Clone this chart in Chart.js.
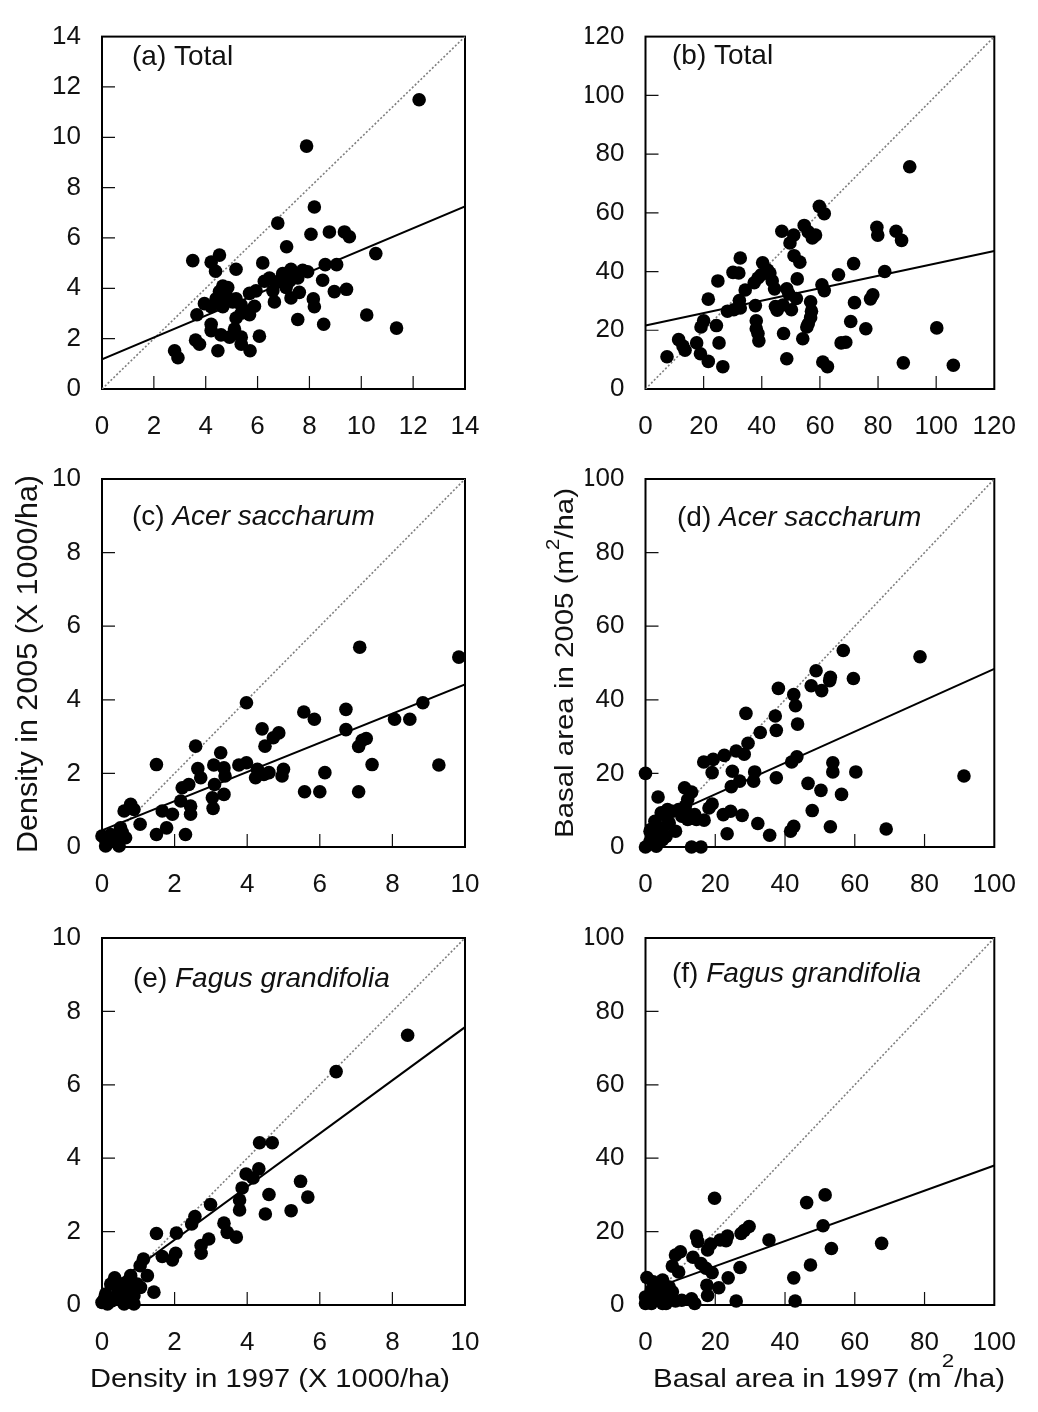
<!DOCTYPE html>
<html>
<head>
<meta charset="utf-8">
<script src="https://cdn.jsdelivr.net/npm/chart.js@4.4.0/dist/chart.umd.min.js"></script>
<style>
html,body{margin:0;padding:0;background:#fff;}
#wrap{position:relative;width:1038px;height:1412px;overflow:hidden;}
#wrap canvas{position:absolute;left:0;top:0;}
</style>
</head>
<body>
<div id="wrap">
<canvas id="c0" width="1038" height="1412"></canvas>
<canvas id="c1" width="1038" height="1412"></canvas>
<canvas id="c2" width="1038" height="1412"></canvas>
<canvas id="c3" width="1038" height="1412"></canvas>
<canvas id="c4" width="1038" height="1412"></canvas>
<canvas id="c5" width="1038" height="1412"></canvas>
</div>
<script>
// ---------------- DATA ----------------
// (a) Total density (x1000/ha): 1997 vs 2005
const panelA_x = [12.23,7.89,8.19,6.78,8.06,8.77,9.35,9.54,10.56,7.12,3.50,4.21,4.53,4.38,5.17,6.20,7.29,7.74,7.93,8.61,9.05,6.46,6.26,6.71,6.91,7.23,7.55,7.10,6.59,5.94,5.69,7.61,7.29,8.51,8.96,9.43,4.53,4.85,4.40,3.95,4.21,4.66,5.04,5.37,5.88,5.56,6.65,8.15,8.19,3.66,5.17,5.69,7.55,8.55,10.21,11.36,4.21,4.21,5.11,4.59,4.92,5.37,6.07,3.61,3.76,5.37,4.47,5.71,2.80,2.93,4.66,4.79,5.17,5.37,6.97,7.38];
const panelA_y = [11.49,9.65,7.23,6.59,6.15,6.24,6.24,6.05,5.38,5.65,5.10,5.04,5.32,4.68,4.76,5.01,4.76,4.72,4.66,4.94,4.94,4.41,4.28,4.22,4.38,4.28,4.41,4.03,3.90,3.90,3.80,3.84,3.62,4.32,3.87,3.96,3.87,4.03,3.58,3.39,3.27,3.27,3.46,3.33,3.29,3.08,3.46,3.58,3.27,2.95,2.82,2.95,2.76,2.57,2.94,2.42,2.57,2.32,2.38,2.15,2.06,2.06,2.10,1.94,1.78,1.78,1.52,1.52,1.52,1.24,4.09,3.71,3.58,3.01,4.59,4.53];
// (b) Total basal area (m2/ha)
const panelB_x = [90.9,59.8,61.5,46.9,51.0,49.7,54.6,56.0,58.5,57.4,79.6,79.9,86.2,88.1,51.1,53.1,32.6,40.3,42.0,42.8,30.1,32.1,71.6,66.4,82.3,24.9,37.4,38.7,39.8,52.2,43.6,44.4,34.3,48.6,49.3,60.7,61.5,51.9,78.2,77.4,71.9,21.6,32.3,32.6,30.4,28.2,37.8,44.7,45.3,47.3,50.2,56.8,57.1,56.8,56.0,55.5,70.6,75.8,20.0,19.1,24.4,38.1,38.1,38.7,39.0,47.5,54.1,11.4,12.9,13.6,17.6,25.3,18.9,21.6,26.6,7.4,48.6,61.0,62.6,67.3,68.9,88.7,100.2,105.9];
const panelB_y = [75.7,62.2,59.7,53.7,52.4,49.7,55.7,53.5,52.4,51.4,55.1,52.4,53.7,50.6,45.4,43.2,44.6,43.0,40.5,39.5,39.7,39.5,42.7,38.9,40.0,36.8,36.2,37.8,38.9,37.5,36.8,34.1,33.7,34.1,32.4,35.5,33.5,30.8,32.1,30.7,29.4,30.6,30.1,27.6,27.0,26.5,28.4,28.1,26.8,28.6,27.0,29.7,26.5,24.3,22.2,21.1,23.0,20.5,23.2,21.1,21.6,23.2,20.5,18.9,16.4,18.9,17.1,16.8,14.6,13.2,15.7,15.7,12.0,9.4,7.6,11.0,10.3,9.2,7.6,15.7,15.9,8.9,20.8,8.1];
// (c) Acer saccharum density
const panelC_x = [7.10,9.83,3.98,8.84,5.56,5.85,6.72,8.06,8.48,4.41,4.87,4.72,4.49,6.72,7.28,7.17,7.07,7.44,9.28,2.58,1.50,3.27,2.64,2.72,3.08,3.36,3.39,3.10,3.77,3.98,4.28,4.23,4.46,4.60,5.00,4.96,6.14,2.21,2.39,2.17,2.44,2.44,3.04,3.06,3.36,5.58,6.00,7.07,1.66,1.94,1.78,1.50,2.30,1.05,0.79,0.61,0.88,0.51,0.56,0.24,0.06,0.00,0.10,0.38,0.47,0.28,0.65,0.15];
const panelC_y = [5.43,5.16,3.92,3.92,3.67,3.47,3.74,3.47,3.47,3.21,3.10,2.97,2.74,3.19,2.95,2.90,2.73,2.24,2.23,2.74,2.24,2.56,2.13,1.88,2.23,2.15,1.93,1.70,2.23,2.29,2.11,1.88,1.97,2.02,2.11,1.93,2.02,1.61,1.70,1.25,1.11,0.89,1.34,1.05,1.43,1.50,1.50,1.50,0.98,0.89,0.52,0.34,0.34,0.62,1.16,0.98,1.02,0.52,0.39,0.34,0.25,0.30,0.03,0.16,0.03,0.21,0.25,0.16];
// (d) Acer saccharum basal area
const panelD_x = [56.7,78.7,48.9,53.0,52.8,59.6,47.5,50.5,38.1,42.5,43.0,28.8,37.2,37.5,43.6,32.9,29.4,26.0,28.3,22.6,19.4,16.7,19.1,24.9,24.6,27.0,31.3,31.0,37.5,41.9,43.4,53.7,53.7,60.3,91.3,46.6,50.3,56.2,47.8,53.0,69.0,42.5,41.6,35.6,32.2,27.7,24.4,22.3,23.4,18.2,19.1,11.2,13.2,12.1,3.6,0.0,11.4,14.1,16.8,12.1,7.7,5.9,8.6,4.9,3.1,2.2,1.3,0.0,3.1,13.2,15.9,6.8,9.5,4.9,4.5,6.3,2.7,1.3,5.9,10.4,11.8,14.6];
const panelD_y = [53.4,51.7,47.9,46.1,45.2,45.8,43.8,42.5,43.1,41.4,38.4,36.3,35.6,31.7,33.4,31.1,28.2,26.1,25.2,24.9,23.8,23.1,20.2,20.6,16.4,17.9,20.4,17.9,18.8,23.1,24.5,22.9,20.4,20.4,19.3,17.3,15.4,14.3,9.9,5.5,4.9,5.6,4.3,3.2,6.4,8.6,9.7,8.8,3.6,10.6,11.7,16.1,14.9,12.9,13.6,20.0,11.1,8.8,7.3,7.5,9.7,8.4,4.3,5.2,4.7,2.9,1.5,0.0,0.2,0.0,0.0,6.5,10.2,2.0,9.3,10.2,7.0,4.3,2.9,8.4,9.3,7.5];
// (e) Fagus grandifolia density
const panelE_x = [8.42,6.45,4.34,4.69,3.97,4.32,4.16,3.86,3.79,3.79,5.47,5.67,4.60,4.50,5.21,2.99,2.56,2.47,3.36,3.45,3.70,1.50,2.05,2.94,2.73,2.73,1.66,2.03,1.94,1.14,1.05,1.25,0.79,0.35,0.56,0.97,1.43,0.70,0.88,0.88,0.61,0.42,0.10,0.06,0.15,0.00,0.28,0.61,0.51,0.74,1.06,0.24];
const panelE_y = [7.35,6.36,4.42,4.42,3.57,3.71,3.46,3.19,2.86,2.59,3.37,2.94,3.01,2.48,2.57,2.74,2.41,2.21,2.23,1.98,1.85,1.95,1.96,1.80,1.62,1.41,1.32,1.41,1.23,1.25,1.07,0.80,0.80,0.74,0.57,0.57,0.35,0.44,0.25,0.03,0.16,0.30,0.30,0.16,0.03,0.07,0.12,0.03,0.39,0.62,0.48,0.57];
// (f) Fagus grandifolia basal area
const panelF_x = [19.8,51.5,46.2,50.9,67.7,53.3,35.4,29.7,28.3,27.4,23.5,23.1,21.4,18.7,17.8,14.6,15.0,10.0,8.6,13.6,15.9,17.3,19.1,7.7,9.5,27.1,23.7,21.0,17.6,17.8,26.0,13.2,14.1,8.6,42.5,47.3,42.9,0.4,4.9,3.1,6.8,1.7,4.9,0.0,2.7,4.0,0.0,1.7,5.9,6.8,2.2,4.0,0.8,7.7,4.9,10.4];
const panelF_y = [29.1,30.0,27.9,21.6,16.8,15.4,17.7,21.4,20.3,19.5,18.8,17.5,17.7,16.6,15.0,18.8,17.3,14.5,13.6,13.0,11.3,10.0,8.8,10.6,9.0,10.2,7.4,4.7,5.4,2.6,1.1,1.7,0.4,1.1,7.4,10.9,1.1,7.5,6.8,5.4,4.9,4.0,3.6,2.2,2.6,1.3,0.4,0.4,0.4,2.2,6.3,3.1,1.3,3.6,0.4,1.3];

// Fitted regression lines (end points)
const fitA_x = [0, 14],  fitA_y = [1.18, 7.25];
const fitB_x = [0, 120], fitB_y = [21.6, 47.0];
const fitC_x = [0, 10],  fitC_y = [0.45, 4.42];
const fitD_x = [0, 100], fitD_y = [5.8, 48.4];
const fitE_x = [0, 10],  fitE_y = [0.33, 7.57];
const fitF_x = [0, 100], fitF_y = [3.7, 38.0];

// Axis ranges / tick steps (same on x and y for each panel)
const axisMax  = [14, 120, 10, 100, 10, 100];
const axisStep = [2, 20, 2, 20, 2, 20];

// Panel labels
const panelTags  = ['(a) ', '(b) ', '(c) ', '(d) ', '(e) ', '(f) '];
const panelNames = ['Total', 'Total', 'Acer saccharum', 'Acer saccharum', 'Fagus grandifolia', 'Fagus grandifolia'];
const panelItalic = [false, false, true, true, true, true];

// Axis titles
const yTitleDensity = [{t:'Density in 2005 (X 1000/ha)'}];
const yTitleBasal   = [{t:'Basal area in 2005 (m'},{t:'2',sup:true},{t:'/ha)'}];
const xTitleDensity = [{t:'Density in 1997 (X 1000/ha)'}];
const xTitleBasal   = [{t:'Basal area in 1997 (m'},{t:'2',sup:true},{t:'/ha)'}];

// ---------------- LAYOUT ----------------
const FONT = '"Liberation Sans", Arial, Helvetica, sans-serif';
const boxes = [
  {L:102,   T:21,  R:465,  B:389},
  {L:645.5, T:21,  R:1009, B:389},
  {L:102,   T:479, R:465,  B:847},
  {L:645.5, T:479, R:1009, B:847},
  {L:102,   T:938, R:465,  B:1305},
  {L:645.5, T:938, R:1009, B:1305}
];
const labelPos = [[132,65],[672,64],[132,525],[677,526],[133,987],[672,982]];
// title placement: [panelIndex, segments, anchorX, anchorY, rotated, size, length, supRaise, supSize]
const titleDefs = [
  [2, yTitleDensity, 37, 664, true, 29, 378, 0, 0],
  [3, yTitleBasal, 573, 663, true, 26, 350, 14, 18],
  [4, xTitleDensity, 270, 1387, false, 25, 360, 0, 0],
  [5, xTitleBasal, 829, 1387, false, 25, 352, 20, 19]
];

const TICK_SIZE = 26;
const Y_W = 60, X_H = 50, W = 1038, H = 1412;

function drawRich(ctx, segs, ax, ay, rotated, size, len, raise, supSize) {
  ctx.save();
  ctx.translate(ax, ay);
  if (rotated) ctx.rotate(-Math.PI / 2);
  let total = 0;
  const parts = segs.map(s => {
    const f = (s.sup ? supSize : size) + 'px ' + FONT;
    ctx.font = f;
    const w = ctx.measureText(s.t).width;
    total += w;
    return {t: s.t, f, w, sup: !!s.sup};
  });
  ctx.scale(len / total, 1);
  ctx.textAlign = 'left';
  ctx.textBaseline = 'alphabetic';
  ctx.fillStyle = '#111';
  let x = -total / 2;
  for (const p of parts) {
    ctx.font = p.f;
    ctx.fillText(p.t, x, p.sup ? -raise : 0);
    x += p.w;
  }
  ctx.restore();
}

function makePlugin(i) {
  return {
    id: 'panelDecor' + i,
    beforeDatasetsDraw(chart) {
      const {ctx, chartArea: a, scales: {x, y}} = chart;
      ctx.save();
      ctx.strokeStyle = '#111';
      ctx.lineWidth = 1.2;
      ctx.beginPath();
      x.ticks.forEach(t => {
        if (t.value > x.min && t.value < x.max) {
          const px = x.getPixelForValue(t.value);
          ctx.moveTo(px, a.bottom); ctx.lineTo(px, a.bottom - 13);
        }
      });
      y.ticks.forEach(t => {
        if (t.value > y.min && t.value < y.max) {
          const py = y.getPixelForValue(t.value);
          ctx.moveTo(a.left, py); ctx.lineTo(a.left + 13, py);
        }
      });
      ctx.stroke();
      ctx.lineWidth = 2;
      ctx.strokeStyle = '#000';
      ctx.strokeRect(a.left, a.top, a.right - a.left, a.bottom - a.top);
      ctx.restore();
    },
    afterDraw(chart) {
      const ctx = chart.ctx;
      ctx.save();
      ctx.fillStyle = '#111';
      ctx.textBaseline = 'alphabetic';
      ctx.textAlign = 'left';
      const [lx, ly] = labelPos[i];
      ctx.font = '28px ' + FONT;
      ctx.fillText(panelTags[i], lx, ly);
      const w = ctx.measureText(panelTags[i]).width;
      ctx.font = (panelItalic[i] ? 'italic ' : '') + '28px ' + FONT;
      ctx.fillText(panelNames[i], lx + w, ly);
      ctx.restore();
      titleDefs.filter(d => d[0] === i).forEach(d => {
        drawRich(ctx, d[1], d[2], d[3], d[4], d[5], d[6], d[7], d[8]);
      });
    }
  };
}

const panels = [
  [panelA_x, panelA_y, fitA_x, fitA_y],
  [panelB_x, panelB_y, fitB_x, fitB_y],
  [panelC_x, panelC_y, fitC_x, fitC_y],
  [panelD_x, panelD_y, fitD_x, fitD_y],
  [panelE_x, panelE_y, fitE_x, fitE_y],
  [panelF_x, panelF_y, fitF_x, fitF_y]
];

Chart.defaults.font.family = FONT;

panels.forEach((p, i) => {
  const [xs, ys, fx, fy] = p;
  const b = boxes[i];
  const max = axisMax[i], step = axisStep[i];
  const scaleCommon = {
    type: 'linear', min: 0, max: max,
    grid: {display: false, drawTicks: false},
    border: {display: false},
    ticks: {stepSize: step, autoSkip: false, maxRotation: 0, color: '#111', font: {size: TICK_SIZE, family: FONT}}
  };
  new Chart(document.getElementById('c' + i), {
    type: 'scatter',
    data: {
      datasets: [
        {
          data: xs.map((v, k) => ({x: v, y: ys[k]})),
          backgroundColor: '#000', borderWidth: 0, pointRadius: 6.8, pointHoverRadius: 6.8,
          clip: false, order: 0
        },
        {
          data: fx.map((v, k) => ({x: v, y: fy[k]})),
          showLine: true, borderColor: '#000', borderWidth: 2, pointRadius: 0, order: 1
        },
        {
          data: [{x: 0, y: 0}, {x: max, y: max}],
          showLine: true, borderColor: '#7f7f7f', borderWidth: 1.6, borderDash: [2, 2], pointRadius: 0, order: 2
        }
      ]
    },
    options: {
      responsive: false, devicePixelRatio: 1, animation: false,
      events: [],
      layout: {padding: {left: b.L - Y_W, top: b.T, right: W - b.R, bottom: H - b.B - X_H}},
      plugins: {legend: {display: false}, tooltip: {enabled: false}, title: {display: false}},
      scales: {
        x: Object.assign({}, scaleCommon, {
          position: 'bottom',
          ticks: Object.assign({}, scaleCommon.ticks, {padding: 22}),
          afterFit: s => { s.height = X_H; }
        }),
        y: Object.assign({}, scaleCommon, {
          position: 'left',
          ticks: Object.assign({}, scaleCommon.ticks, {padding: 21}),
          afterFit: s => { s.width = Y_W; }
        })
      }
    },
    plugins: [makePlugin(i)]
  });
});
</script>
</body>
</html>
